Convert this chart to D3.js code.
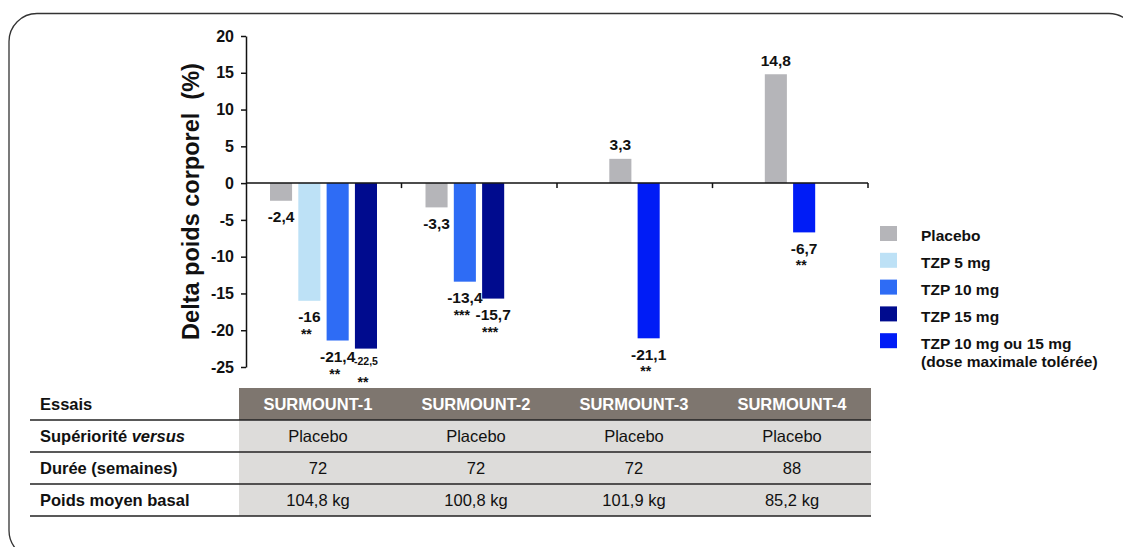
<!DOCTYPE html>
<html>
<head>
<meta charset="utf-8">
<script src="https://cdn.jsdelivr.net/npm/d3@7"></script>
<style>
  body { margin: 0; background: #fff; }
  text { font-family: "Liberation Sans", Arial, sans-serif; }
</style>
</head>
<body>
<div id="chart"></div>
<script>
// data
const trials = ["SURMOUNT-1", "SURMOUNT-2", "SURMOUNT-3", "SURMOUNT-4"];
const seriesNames = ["Placebo", "TZP 5 mg", "TZP 10 mg", "TZP 15 mg", "TZP 10 mg ou 15 mg"];
const legendLines = [["Placebo"], ["TZP 5 mg"], ["TZP 10 mg"], ["TZP 15 mg"], ["TZP 10 mg ou 15 mg", "(dose maximale tolérée)"]];
const seriesColors = ["#b5b5b9", "#bde1f6", "#2e6cf5", "#000b8e", "#001cf6"];

// one value per trial, null = not studied
const placebo = [-2.4, -3.3, 3.3, 14.8];
const tzp5 = [-16, null, null, null];
const tzp10 = [-21.4, -13.4, null, null];
const tzp15 = [-22.5, -15.7, null, null];
const tzpMax = [null, null, -21.1, -6.7];
const placeboStars = ["", "", "", ""];
const tzp5Stars = ["**", "", "", ""];
const tzp10Stars = ["**", "***", "", ""];
const tzp15Stars = ["**", "***", "", ""];
const tzpMaxStars = ["", "", "**", "**"];

const yTicks = [20, 15, 10, 5, 0, -5, -10, -15, -20, -25];

// table
const rowLabels = ["Essais", "Supériorité versus", "Durée (semaines)", "Poids moyen basal"];
const superiority = ["Placebo", "Placebo", "Placebo", "Placebo"];
const durationWeeks = [72, 72, 72, 88];
const baselineWeight = [104.8, 100.8, 101.9, 85.2];

const seriesValues = [placebo, tzp5, tzp10, tzp15, tzpMax];
const seriesStars = [placeboStars, tzp5Stars, tzp10Stars, tzp15Stars, tzpMaxStars];

// where the first bar of each trial sits among the 4 slots
const firstSlot = [0, 0, 1, 1];

const fr = d3.formatLocale({ decimal: ",", thousands: " ", grouping: [3], currency: ["", " €"], minus: "-" });
const fmt = fr.format("~r");
const fmtKg = d => fr.format(".1f")(d) + " kg";

// build bar list
const bars = [];
trials.forEach((t, ti) => {
    let slot = firstSlot[ti];
    seriesValues.forEach((vals, si) => {
        if (vals[ti] === null) return;
        bars.push({ trial: t, series: si, value: vals[ti], stars: seriesStars[si][ti], slot: slot++ });
    });
});

const W = 1123, H = 547;
const svg = d3.select("#chart").append("svg")
    .attr("width", W)
    .attr("height", H);

// rounded frame
svg.append("rect")
    .attr("x", 9).attr("y", 13.5)
    .attr("width", 1128).attr("height", 545)
    .attr("rx", 28).attr("ry", 28)
    .attr("fill", "none")
    .attr("stroke", "#333")
    .attr("stroke-width", 1.3);

// scales
const x = d3.scaleBand().domain(trials).range([246, 868]);
const xSlot = d3.scaleBand().domain([0, 1, 2, 3]).range([24, 131]).paddingInner(0.22);
const y = d3.scaleLinear().domain([-25, 20]).range([367, 36]);

// bars
svg.selectAll("rect.bar")
    .data(bars)
    .join("rect")
    .attr("class", "bar")
    .attr("x", d => x(d.trial) + xSlot(d.slot))
    .attr("y", d => y(Math.max(0, d.value)))
    .attr("width", xSlot.bandwidth())
    .attr("height", d => Math.abs(y(d.value) - y(0)))
    .attr("fill", d => seriesColors[d.series]);

// y axis
const yAxis = svg.append("g")
    .attr("transform", `translate(${x.range()[0]},0)`)
    .call(d3.axisLeft(y).tickValues(yTicks).tickSize(5).tickSizeOuter(0).tickPadding(7).tickFormat(fmt));
yAxis.select(".domain").attr("stroke", "#111").attr("stroke-width", 1.5);
yAxis.selectAll(".tick line").attr("stroke", "#111").attr("stroke-width", 1.5);
yAxis.selectAll(".tick text")
    .style("font-family", "'Liberation Sans', Arial, sans-serif")
    .style("font-size", "16px")
    .style("font-weight", "bold")
    .attr("fill", "#111");

// zero line with ticks at band boundaries
svg.append("line")
    .attr("x1", x.range()[0]).attr("x2", x.range()[1])
    .attr("y1", y(0)).attr("y2", y(0))
    .attr("stroke", "#111").attr("stroke-width", 1.5);
svg.selectAll("line.xtick")
    .data(trials)
    .join("line")
    .attr("class", "xtick")
    .attr("x1", d => x(d) + x.bandwidth()).attr("x2", d => x(d) + x.bandwidth())
    .attr("y1", y(0)).attr("y2", y(0) + 5)
    .attr("stroke", "#111").attr("stroke-width", 1.5);

// y title
svg.append("text")
    .attr("transform", `translate(199,${(y(20) + y(-25)) / 2}) rotate(-90)`)
    .attr("text-anchor", "middle")
    .style("font-size", "23.5px")
    .style("font-weight", "bold")
    .style("white-space", "pre")
    .attr("fill", "#111")
    .text("Delta poids corporel  (%)");

// value labels
const isCompact = d => d.trial === "SURMOUNT-1" && d.series === 3;
const barCenter = d => x(d.trial) + xSlot(d.slot) + xSlot.bandwidth() / 2;
const labelY = d => d.value >= 0 ? y(d.value) - 14 : y(d.value) + (isCompact(d) ? 13 : 16);

svg.selectAll("text.val")
    .data(bars)
    .join("text")
    .attr("class", "val")
    .attr("x", barCenter)
    .attr("y", labelY)
    .attr("dy", "0.35em")
    .attr("text-anchor", "middle")
    .style("font-size", d => isCompact(d) ? "10.5px" : "15.5px")
    .style("font-weight", "bold")
    .attr("fill", "#111")
    .text(d => fmt(d.value));

svg.selectAll("text.stars")
    .data(bars.filter(d => d.stars))
    .join("text")
    .attr("class", "stars")
    .attr("x", d => barCenter(d) - 3)
    .attr("y", d => labelY(d) + (isCompact(d) ? 17 : 14) + 8)
    .attr("text-anchor", "middle")
    .style("font-size", "14px")
    .style("font-weight", "bold")
    .attr("fill", "#111")
    .text(d => d.stars);

// legend
const legend = svg.append("g").attr("transform", "translate(880,226)");
legendLines.forEach((lines, i) => {
    const item = legend.append("g").attr("transform", `translate(0,${i * 26.8})`);
    item.append("rect")
        .attr("width", 17).attr("height", 15)
        .attr("fill", seriesColors[i]);
    lines.forEach((line, j) => {
        item.append("text")
            .attr("x", 41)
            .attr("y", 10 + j * 18.4)
            .attr("dy", "0.35em")
            .style("font-size", "15.5px")
            .style("font-weight", "bold")
            .attr("fill", "#111")
            .text(line);
    });
});

// table under the chart
const tx = d3.scaleBand().domain(trials).range([239, 871]);
const rowTop = 388, rowH = 32, tableLeft = 30;

svg.append("rect")
    .attr("x", tx.range()[0]).attr("y", rowTop)
    .attr("width", tx.range()[1] - tx.range()[0]).attr("height", rowH)
    .attr("fill", "#7e766f");
svg.append("rect")
    .attr("x", tx.range()[0]).attr("y", rowTop + rowH)
    .attr("width", tx.range()[1] - tx.range()[0]).attr("height", rowH * 3)
    .attr("fill", "#dddcda");

svg.selectAll("line.row")
    .data([1, 2, 3, 4])
    .join("line")
    .attr("class", "row")
    .attr("x1", tableLeft).attr("x2", tx.range()[1])
    .attr("y1", d => rowTop + d * rowH).attr("y2", d => rowTop + d * rowH)
    .attr("stroke", "#222").attr("stroke-width", 1.5);

// row labels
rowLabels.forEach((lab, i) => {
    const t = svg.append("text")
        .attr("x", 40)
        .attr("y", rowTop + rowH * i + rowH / 2)
        .attr("dy", "0.35em")
        .style("font-size", "16.5px")
        .style("font-weight", "bold")
        .attr("fill", "#111");
    if (lab.endsWith(" versus")) {
        t.append("tspan").text(lab.replace(" versus", " "));
        t.append("tspan").style("font-style", "italic").text("versus");
    } else {
        t.text(lab);
    }
});

const tableRows = [
    trials,
    superiority,
    durationWeeks.map(String),
    baselineWeight.map(fmtKg)
];
tableRows.forEach((row, ri) => {
    svg.selectAll(`text.cell${ri}`)
        .data(row)
        .join("text")
        .attr("class", `cell${ri}`)
        .attr("x", (d, i) => tx(trials[i]) + tx.bandwidth() / 2)
        .attr("y", rowTop + rowH * ri + rowH / 2)
        .attr("dy", "0.35em")
        .attr("text-anchor", "middle")
        .style("font-size", "16.5px")
        .style("font-weight", ri === 0 ? "bold" : "normal")
        .attr("fill", ri === 0 ? "#fff" : "#111")
        .text(d => d);
});
</script>
</body>
</html>
